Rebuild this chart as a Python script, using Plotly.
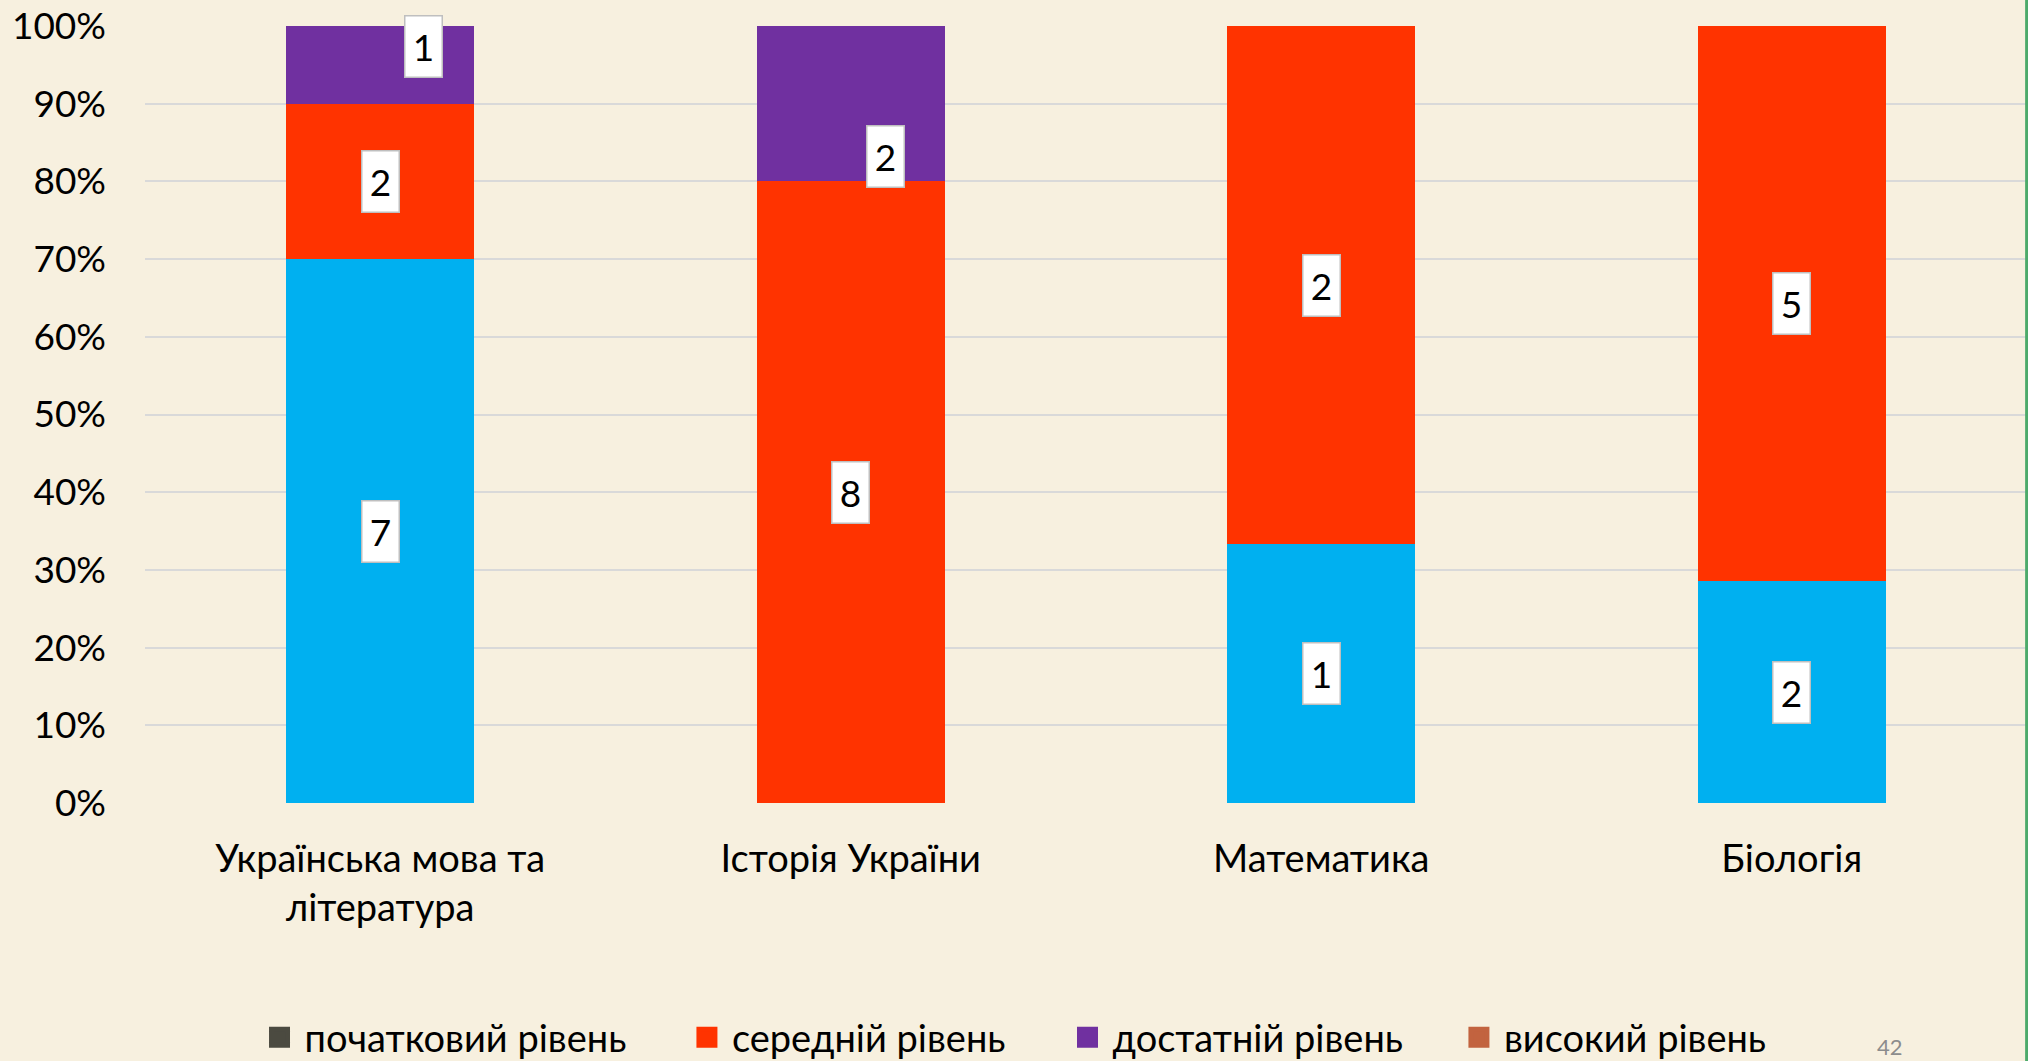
import plotly.graph_objects as go

# ---------------- data ----------------
categories = ["Українська мова та<br>література", "Історія України", "Математика", "Біологія"]
blue_values = [7, 0, 1, 2]          # bottom (blue) series, not listed in legend
middle_values = [2, 8, 2, 5]        # середній рівень
sufficient_values = [1, 2, 0, 0]    # достатній рівень

legend_names = ["початковий рівень", "середній рівень", "достатній рівень", "високий рівень"]
legend_colors = ["#4B4A40", "#FF3300", "#7030A0", "#C2633F"]
blue_color = "#00B0F0"

y_ticks = [0, 10, 20, 30, 40, 50, 60, 70, 80, 90, 100]
page_number = "42"

# manual label offsets (px) for the moved labels: (category index, series index) -> (dx, dy)
label_offsets = {(0, 2): (43, 18), (1, 2): (35, -53)}
# left positions (paper fraction) of each legend entry
legend_x = [0.0582, 0.2853, 0.4875, 0.6955]

FONT = "Lato"
BG = "#F7F0DF"

fig = go.Figure()

stack = [
    ("Ряд 1", blue_values, blue_color),
    (legend_names[1], middle_values, legend_colors[1]),
    (legend_names[2], sufficient_values, legend_colors[2]),
]
for name, vals, col in stack:
    fig.add_trace(go.Bar(x=categories, y=vals, name=name, marker=dict(color=col, line=dict(width=0)),
                         width=0.4, showlegend=False, hoverinfo="skip"))

# legend entries, each in its own legend box
legend_ids = ["legend", "legend2", "legend3", "legend4"]
for name, col, lid in zip(legend_names, legend_colors, legend_ids):
    fig.add_trace(go.Scatter(x=[None], y=[None], mode="markers", name=name, legend=lid,
                             marker=dict(symbol="square", size=16, color=col,
                                         line=dict(width=5, color=col)),
                             showlegend=True))

# data labels as boxed annotations
totals = [sum(v) for v in zip(*[s[1] for s in stack])]
annotations = []
for ci, cat in enumerate(categories):
    cum = 0
    for si, (name, vals, col) in enumerate(stack):
        v = vals[ci]
        if v:
            center = (cum + v / 2) / totals[ci] * 100
            dx, dy = label_offsets.get((ci, si), (0, 0))
            annotations.append(dict(
                x=cat, y=center, xref="x", yref="y", text=str(v), showarrow=False,
                font=dict(family=FONT, size=37, color="#000000"),
                bgcolor="#FFFFFF", bordercolor="#BFBFBF", borderwidth=1.5, borderpad=4,
                width=28, height=52, xshift=dx, yshift=dy))
        cum += v

annotations.append(dict(x=0.927, y=-0.313, xref="paper", yref="paper", text=page_number,
                        yanchor="middle", xanchor="center",
                        showarrow=False, font=dict(family=FONT, size=22, color="#8C8C8C")))

legend_common = dict(orientation="h", xanchor="left", y=-0.302, yanchor="middle",
                     font=dict(family=FONT, size=38, color="#000000"), bgcolor="rgba(0,0,0,0)",
                     itemwidth=40, itemclick=False, itemdoubleclick=False)
legends = {lid: dict(legend_common, x=lx) for lid, lx in zip(legend_ids, legend_x)}

fig.update_layout(
    barmode="stack",
    barnorm="percent",
    width=2028, height=1061,
    margin=dict(l=145, r=1, t=26, b=258, autoexpand=False),
    paper_bgcolor=BG, plot_bgcolor=BG,
    font=dict(family=FONT, size=37, color="#000000"),
    showlegend=True,
    annotations=annotations,
    xaxis=dict(type="category", range=[-0.5, 3.5], showgrid=False, showline=False, zeroline=False,
               ticks="", ticklabelstandoff=30, tickfont=dict(family=FONT, size=38)),
    yaxis=dict(range=[0, 100], tickvals=y_ticks, ticktext=[f"{t}%" for t in y_ticks],
               showgrid=True, gridcolor="#D9D9D9", gridwidth=2, zeroline=False, showline=False,
               ticks="", ticklabelstandoff=38, tickfont=dict(family=FONT, size=37)),
    shapes=[dict(type="line", xref="paper", yref="paper", x0=0.9998, x1=0.9998, y0=-0.35, y1=1.05,
                 line=dict(color="#4DAA6B", width=3))],
    **legends,
)

fig.write_html("out.html", config={"displayModeBar": False},
               post_script="document.body.style.margin='0';document.body.style.background='#F7F0DF';")
